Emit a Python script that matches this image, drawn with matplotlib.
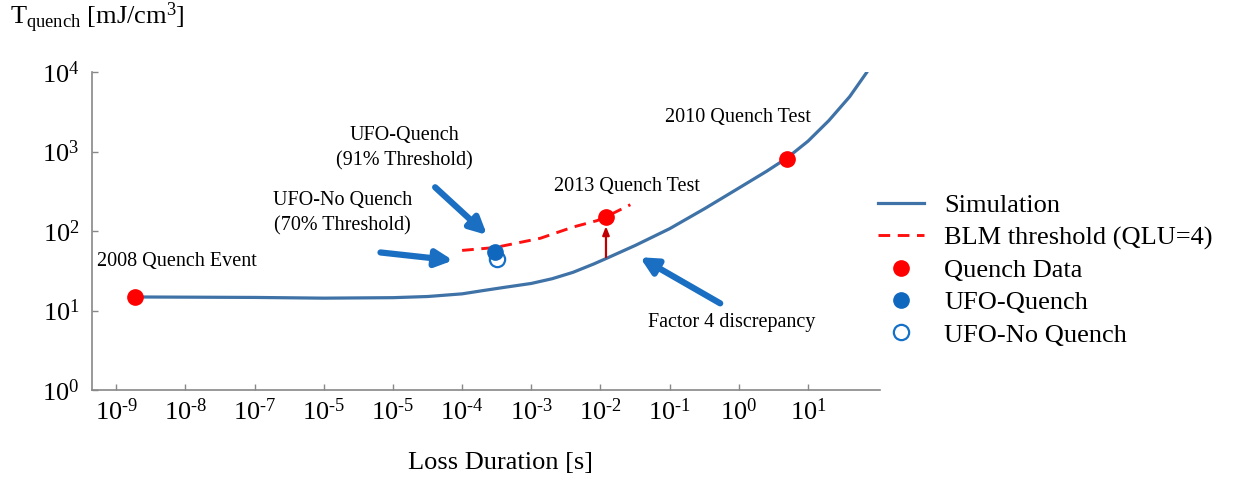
import matplotlib
matplotlib.use('Agg')
import matplotlib.pyplot as plt
from matplotlib.ticker import FixedLocator, NullLocator

plt.rcParams['font.family'] = ['Liberation Serif', 'DejaVu Serif']
plt.rcParams['mathtext.fontset'] = 'custom'
plt.rcParams['mathtext.rm'] = 'Liberation Serif'
plt.rcParams['mathtext.it'] = 'Liberation Serif:italic'
plt.rcParams['mathtext.bf'] = 'Liberation Serif:bold'

# simulated quench level vs loss duration
sim_t = [1.9e-9, 1e-7, 1e-6, 1e-5, 3.2e-5, 1e-4, 2e-4, 4e-4, 1e-3, 2e-3, 4e-3,
         8e-3, 1.25e-2, 3.2e-2, 0.1, 0.32, 1.0, 2.5, 5.0, 10, 20, 40, 70]
sim_e = [14.8, 14.6, 14.3, 14.5, 15.0, 16.2, 17.8, 19.5, 21.9, 25.1, 30.2,
         38.5, 45.7, 66.0, 107, 191, 347, 562, 832, 1350, 2450, 4900, 9800]

# BLM threshold (QLU=4)
blm_t = [1e-4, 3e-4, 1.35e-3, 4e-3, 8.9e-3, 1.2e-2, 2.7e-2]
blm_e = [57, 62, 81, 112, 135, 151, 214]

quench_t = [1.9e-9, 1.2e-2, 4.9]
quench_e = [15, 152, 815]
quench_names = ['2008 Quench Event', '2013 Quench Test', '2010 Quench Test']

ufo_q_t, ufo_q_e = [3.0e-4], [54]
ufo_nq_t, ufo_nq_e = [3.2e-4], [44]

xtick_vals = [1e-9, 1e-8, 1e-7, 1e-6, 1e-5, 1e-4, 1e-3, 1e-2, 1e-1, 1e0, 1e1]
xtick_labels = ['-9', '-8', '-7', '-5', '-5', '-4', '-3', '-2', '-1', '0', '1']
ytick_vals = [1, 10, 100, 1000, 10000]
ytick_labels = ['0', '1', '2', '3', '4']

blue_arrow = '#1a6fc2'

fig = plt.figure(figsize=(12.36, 4.78), dpi=100)
ax = fig.add_axes([92 / 1236, 1 - 390 / 478, (880 - 92) / 1236, (390 - 72) / 478])

ax.plot(sim_t, sim_e, color='#3f72a6', lw=2.3, label='Simulation', zorder=2)
ax.plot(blm_t, blm_e, color='#ff1010', lw=2.1, ls=(0, (4, 2.6)),
        label='BLM threshold (QLU=4)', zorder=3)
ax.plot(quench_t, quench_e, 'o', color='#ff0000', ms=11, mec='#ff0000',
        label='Quench Data', zorder=5)
ax.plot(ufo_q_t, ufo_q_e, 'o', color='#0f68be', ms=11, mec='#0f68be',
        label='UFO-Quench', zorder=6)
ax.plot(ufo_nq_t, ufo_nq_e, 'o', mfc='white', mec='#1570c8', mew=1.6, ms=11,
        label='UFO-No Quench', zorder=4)

ax.set_xscale('log')
ax.set_yscale('log')
ax.set_xlim(10 ** -9.35, 10 ** 2.04)
ax.set_ylim(1, 1e4)

ax.xaxis.set_major_locator(FixedLocator(xtick_vals))
ax.xaxis.set_minor_locator(NullLocator())
ax.set_xticklabels([r'$10^{\text{%s}}$' % s for s in xtick_labels])
ax.yaxis.set_major_locator(FixedLocator(ytick_vals))
ax.yaxis.set_minor_locator(NullLocator())
ax.set_yticklabels([r'$10^{%s}$' % s for s in ytick_labels])
ax.tick_params(axis='both', direction='in', length=4, width=1, color='#888888',
               labelsize=19, labelcolor='black')
ax.tick_params(axis='x', pad=6)
ax.tick_params(axis='y', pad=9)

for side in ['top', 'right']:
    ax.spines[side].set_visible(False)
for side in ['left', 'bottom']:
    ax.spines[side].set_color('#888888')
    ax.spines[side].set_linewidth(1.2)

# point annotations
ax.text(10 ** -8.12, 10 ** 1.62, quench_names[0], fontsize=14.5, ha='center', va='center')
ax.text(10 ** -1.62, 10 ** 2.56, quench_names[1], fontsize=14.5, ha='center', va='center')
ax.text(10 ** -0.01, 10 ** 3.43, quench_names[2], fontsize=14.5, ha='center', va='center')
ax.text(10 ** -5.73, 10 ** 2.22, 'UFO-No Quench\n(70% Threshold)', fontsize=14.5,
        ha='center', va='center', linespacing=1.45)
ax.text(10 ** -4.84, 10 ** 3.04, 'UFO-Quench\n(91% Threshold)', fontsize=14.5,
        ha='center', va='center', linespacing=1.45)
ax.text(10 ** -0.10, 10 ** 0.85, 'Factor 4 discrepancy', fontsize=14.5,
        ha='center', va='center')

arrow_kw = dict(arrowstyle='-|>,head_length=1.0,head_width=0.5', lw=4.5,
                color=blue_arrow, shrinkA=0, shrinkB=0)
ax.annotate('', xy=(10 ** -3.64, 10 ** 1.95), xytext=(10 ** -4.39, 10 ** 2.55),
            arrowprops=arrow_kw)
ax.annotate('', xy=(10 ** -4.13, 10 ** 1.63), xytext=(10 ** -5.18, 10 ** 1.73),
            arrowprops=arrow_kw)
ax.annotate('', xy=(10 ** -1.43, 10 ** 1.67), xytext=(10 ** -0.27, 10 ** 1.09),
            arrowprops=arrow_kw)
# gap between simulation and 2013 measurement
ax.annotate('', xy=(quench_t[1], 10 ** 2.06), xytext=(quench_t[1], 10 ** 1.67),
            arrowprops=dict(arrowstyle='-|>,head_length=0.5,head_width=0.2', lw=1.6,
                            color='#c00000', shrinkA=0, shrinkB=0))

leg = ax.legend(loc='upper left', bbox_to_anchor=(878 / 1236, 1 - 194 / 478),
                bbox_transform=fig.transFigure, frameon=False, fontsize=19,
                handlelength=1.75, handletextpad=0.75, labelspacing=0.33,
                borderaxespad=0, borderpad=0)

fig.text(10 / 1236, 1 - 18 / 478, r'T$_{\mathrm{quench}}$ [mJ/cm$^3$]', fontsize=19,
         ha='left', va='center')
fig.text(500 / 1236, 1 - 463 / 478, 'Loss Duration [s]', fontsize=19,
         ha='center', va='center')

fig.savefig('out.png', dpi=100)
